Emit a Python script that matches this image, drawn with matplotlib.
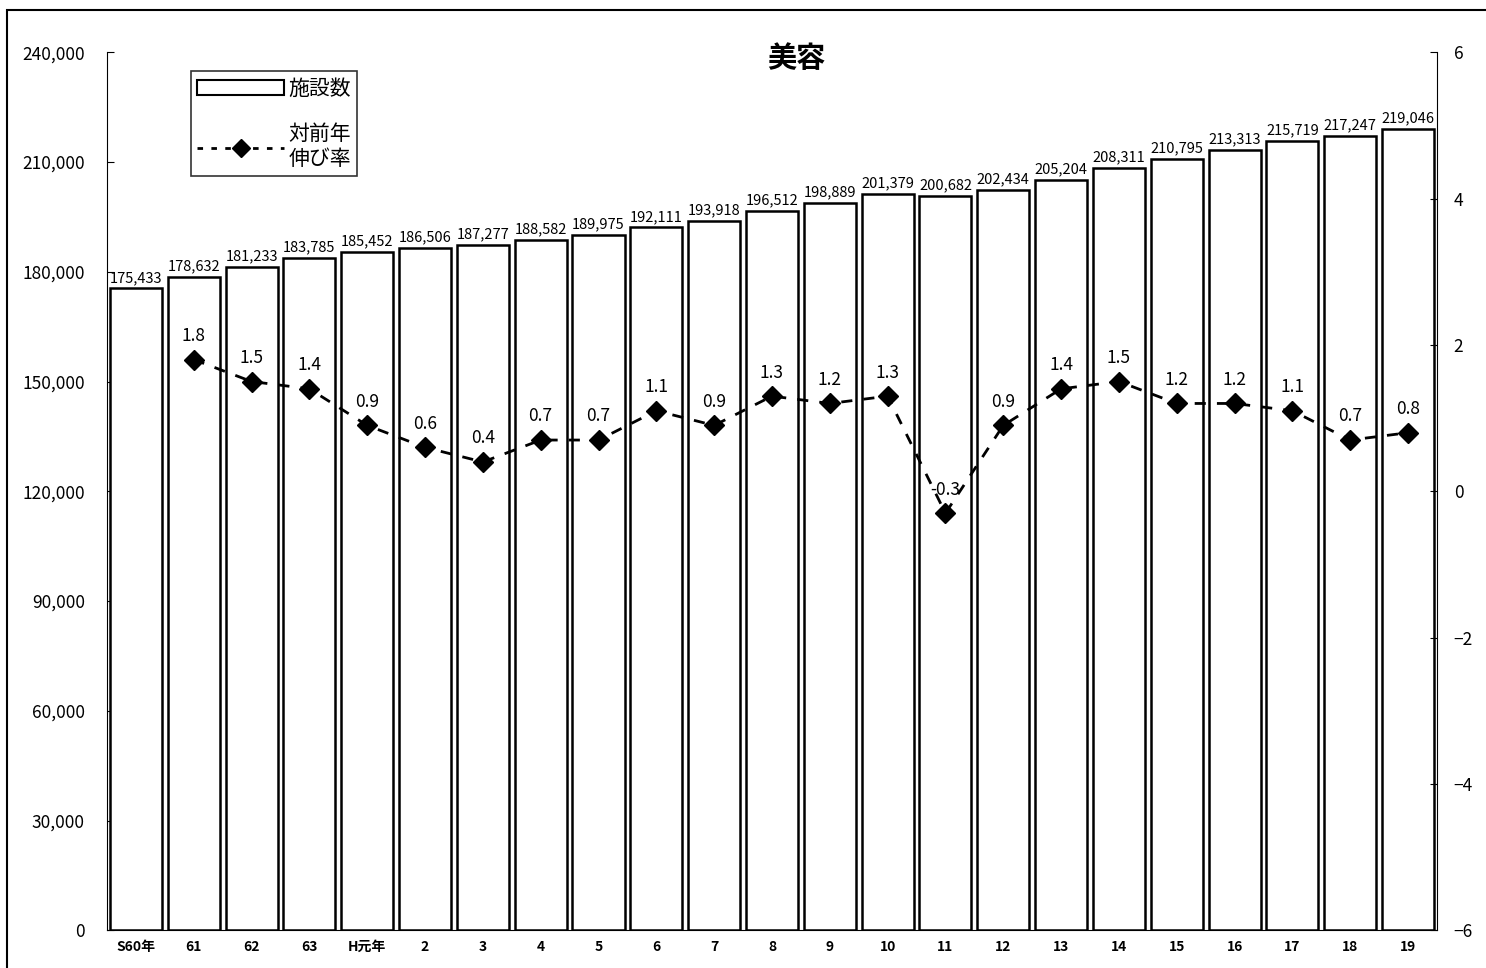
import numpy as np
import matplotlib.pyplot as plt
from matplotlib.patches import Rectangle
from matplotlib.lines import Line2D
from matplotlib.patches import Patch

plt.rcParams['font.family'] = ['Noto Sans CJK JP', 'DejaVu Sans']

years = ['S60年', '61', '62', '63', 'H元年', '2', '3', '4', '5', '6', '7', '8',
         '9', '10', '11', '12', '13', '14', '15', '16', '17', '18', '19']
facilities = [175433, 178632, 181233, 183785, 185452, 186506, 187277, 188582,
              189975, 192111, 193918, 196512, 198889, 201379, 200682, 202434,
              205204, 208311, 210795, 213313, 215719, 217247, 219046]
growth = [np.nan, 1.8, 1.5, 1.4, 0.9, 0.6, 0.4, 0.7, 0.7, 1.1, 0.9, 1.3,
          1.2, 1.3, -0.3, 0.9, 1.4, 1.5, 1.2, 1.2, 1.1, 0.7, 0.8]

x = np.arange(len(years))

fig = plt.figure(figsize=(14.86, 9.68), dpi=100)
ax = fig.add_axes([0.072, 0.039, 0.895, 0.907])

# bars
ax.bar(x, facilities, width=0.9, color='white', edgecolor='black', linewidth=1.8, zorder=2)
for xi, v in zip(x, facilities):
    ax.text(xi, v + 1000, f'{v:,}', ha='center', va='bottom', fontsize=10.5, zorder=5)

ax.set_xlim(-0.5, len(years) - 0.5)
ax.set_ylim(0, 240000)
ax.set_yticks(np.arange(0, 240001, 30000))
ax.set_yticklabels([f'{v:,}' for v in range(0, 240001, 30000)], fontsize=12.5)
ax.set_xticks(x)
ax.set_xticklabels(years, fontsize=10, fontweight='bold')
ax.tick_params(axis='y', direction='in', length=5, pad=16)
ax.tick_params(axis='x', length=0, pad=7)
ax.spines['top'].set_visible(False)
ax.spines['right'].set_visible(False)

# growth rate line on right axis
ax2 = ax.twinx()
ax2.plot(x, growth, linestyle=(0, (4, 4)), color='black', linewidth=2,
         marker='D', markersize=10, zorder=4)
for xi, g in zip(x, growth):
    if np.isnan(g):
        continue
    ax2.text(xi, g + 0.2, f'{g:.1f}', ha='center', va='bottom', fontsize=12.5, zorder=5)
ax2.set_ylim(-6, 6)
ax2.set_yticks(np.arange(-6, 7, 2))
ax2.set_yticklabels(['−6', '−4', '−2', '0', '2', '4', '6'], fontsize=12.5)
ax2.tick_params(axis='y', direction='in', length=5, pad=12)
ax2.spines['top'].set_visible(False)
ax2.spines['left'].set_visible(False)
ax2.spines['bottom'].set_visible(False)
ax.set_zorder(ax2.get_zorder() - 1)
ax2.patch.set_visible(False)

fig.text(0.536, 0.94, '美容', ha='center', va='center', fontsize=21, fontweight='bold')

# legend
handles = [Patch(facecolor='white', edgecolor='black', linewidth=1.5),
           Line2D([0], [0], linestyle=(0, (2, 3)), color='black', linewidth=2,
                  marker='D', markersize=9)]
leg = ax.legend(handles, ['施設数', '対前年\n伸び率'], loc='upper left',
                bbox_to_anchor=(0.055, 0.99), fontsize=15, frameon=True,
                fancybox=False, edgecolor='black', labelspacing=1.1,
                handlelength=4.2, handletextpad=0.2, borderpad=0.3)
leg.get_frame().set_linewidth(1.2)

# outer frame
fig.patches.append(Rectangle((0.005, -0.01), 1.2, 1.0, transform=fig.transFigure,
                             fill=False, edgecolor='black', linewidth=1.5))

plt.savefig('out.png', dpi=100)
